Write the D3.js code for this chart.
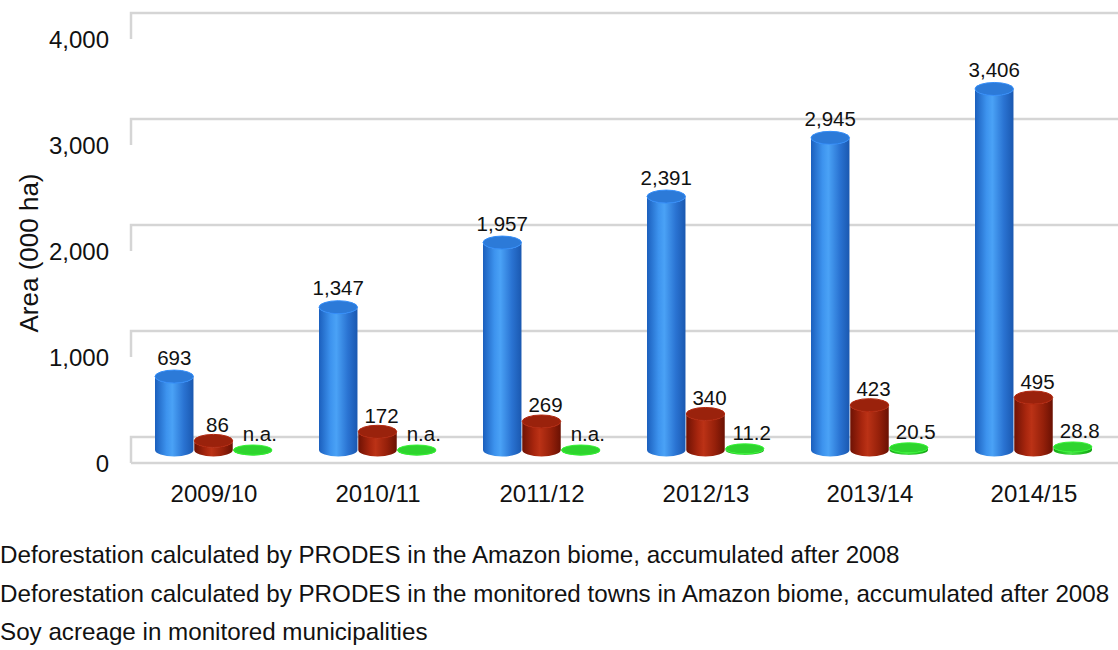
<!DOCTYPE html>
<html>
<head>
<meta charset="utf-8">
<script src="https://cdn.jsdelivr.net/npm/d3@7"></script>
<style>
  html, body { margin: 0; padding: 0; background: #fff; overflow: hidden; }
  svg { display: block; font-family: "Liberation Sans", Arial, sans-serif; }
</style>
</head>
<body>
<svg id="chart" width="1118" height="650"></svg>
<script>
// Crop seasons and accumulated areas (thousand ha)
const categories = ["2009/10", "2010/11", "2011/12", "2012/13", "2013/14", "2014/15"];
const prodesAmazon = [693, 1347, 1957, 2391, 2945, 3406];
const prodesMonitored = [86, 172, 269, 340, 423, 495];
const soyMonitored = [null, null, null, 11.2, 20.5, 28.8];
const yTicks = [0, 1000, 2000, 3000, 4000];
const seriesNames = [
  "Deforestation calculated by PRODES in the Amazon biome, accumulated after 2008",
  "Deforestation calculated by PRODES in the monitored towns in Amazon biome, accumulated after 2008",
  "Soy acreage in monitored municipalities"
];

const series = [
  { key: "amazon", values: prodesAmazon, colors: ["#1b5fbd", "#3d93ee", "#4aa2f6", "#2a73d2", "#1a58b0"], top: "#2c7ad8", labelDx: 0, labelDy: 12 },
  { key: "monitored", values: prodesMonitored, colors: ["#6e1204", "#a8260e", "#bb3216", "#95200a", "#6a1103"], top: "#9a220c", labelDx: 4, labelDy: 9 },
  { key: "soy", values: soyMonitored, colors: ["#15a815", "#2fcf2f", "#4fe04f", "#22c022", "#14a014"], top: "#2ed42e", labelDx: 7, labelDy: 9 }
];

const svg = d3.select("#chart");
const W = 1118;
const plotLeft = 132, plotRight = 1116;
const depth = 26;                 // vertical offset between back wall and front edge

// Back-wall value scale; front and mid-depth are offsets of it
const yBack = d3.scaleLinear().domain([0, 4000]).range([437, 13]);
const yFront = v => yBack(v) + depth;
const yMid = v => yBack(v) + depth / 2;

const x0 = d3.scaleBand().domain(categories).range([plotLeft, plotRight]);
const x1 = d3.scaleBand().domain(series.map(s => s.key)).range([23, 140]).paddingInner(0.02);

// Gradients for the cylinder bodies
const defs = svg.append("defs");
series.forEach(s => {
  const g = defs.append("linearGradient").attr("id", "grad-" + s.key)
    .attr("x1", 0).attr("x2", 1).attr("y1", 0).attr("y2", 0);
  const offs = [0, 0.3, 0.45, 0.75, 1];
  s.colors.forEach((c, i) => g.append("stop").attr("offset", offs[i]).attr("stop-color", c));
});

// Grid: back-wall lines with the short left-wall edge
const grid = svg.append("g").attr("fill", "none").attr("stroke", "#d5d5d5").attr("stroke-width", 2.5);
yTicks.forEach(t => {
  const yb = yBack(t);
  grid.append("path").attr("d", `M${plotLeft - 1},${yb + depth} L${plotLeft - 1},${yb} L${W},${yb}`);
});
// Floor front edge
grid.append("path").attr("d", `M${plotLeft - 1},${yFront(0)} L${W},${yFront(0)}`);

// Y axis tick labels
svg.append("g").selectAll("text").data(yTicks).join("text")
  .attr("x", 109).attr("y", d => yFront(d) + 8.5)
  .attr("text-anchor", "end").attr("font-size", 24).attr("fill", "#111")
  .text(d3.format(","));

// Y axis title
svg.append("text")
  .attr("transform", `translate(38,253) rotate(-90)`)
  .attr("text-anchor", "middle").attr("font-size", 26).attr("fill", "#111")
  .text("Area (000 ha)");

// Category labels
svg.append("g").selectAll("text").data(categories).join("text")
  .attr("x", d => x0(d) + x0.bandwidth() / 2).attr("y", 502)
  .attr("text-anchor", "middle").attr("font-size", 24).attr("fill", "#111")
  .text(d => d);

// Cylinders
const ry = 6.5;
const bars = svg.append("g");
categories.forEach((cat, i) => {
  series.forEach(s => {
    const v = s.values[i];
    const rx = x1.bandwidth() / 2;
    const cx = x0(cat) + x1(s.key) + rx;
    const yBase = yMid(0);
    const yTop = yMid(v == null ? 0 : v);
    const ryy = s.key === "soy" ? 5 : ry;
    const g = bars.append("g");
    if (yBase - yTop > 0.5) {
      g.append("path")
        .attr("d", `M${cx - rx},${yTop} L${cx - rx},${yBase} A${rx},${ryy} 0 0 0 ${cx + rx},${yBase} L${cx + rx},${yTop} A${rx},${ryy} 0 0 1 ${cx - rx},${yTop} Z`)
        .attr("fill", `url(#grad-${s.key})`);
    } else {
      g.append("ellipse").attr("cx", cx).attr("cy", yBase + 0.5).attr("rx", rx).attr("ry", ryy)
        .attr("fill", s.colors[3]);
    }
    g.append("ellipse").attr("cx", cx).attr("cy", yTop).attr("rx", rx).attr("ry", ryy)
      .attr("fill", s.top).attr("stroke", d3.color(s.top).brighter(0.4)).attr("stroke-width", 1);

    // Value label
    bars.append("text")
      .attr("x", cx + s.labelDx).attr("y", yTop - s.labelDy)
      .attr("text-anchor", "middle").attr("font-size", 20.5).attr("fill", "#111")
      .text(v == null ? "n.a." : (s.key === "soy" ? d3.format(".1f")(v) : d3.format(",")(v)));
  });
});

// Legend text lines
svg.append("g").selectAll("text").data(seriesNames).join("text")
  .attr("x", 0).attr("y", (d, i) => 563 + i * 38.5)
  .attr("font-size", 24.2).attr("fill", "#111")
  .text(d => d);
</script>
</body>
</html>
